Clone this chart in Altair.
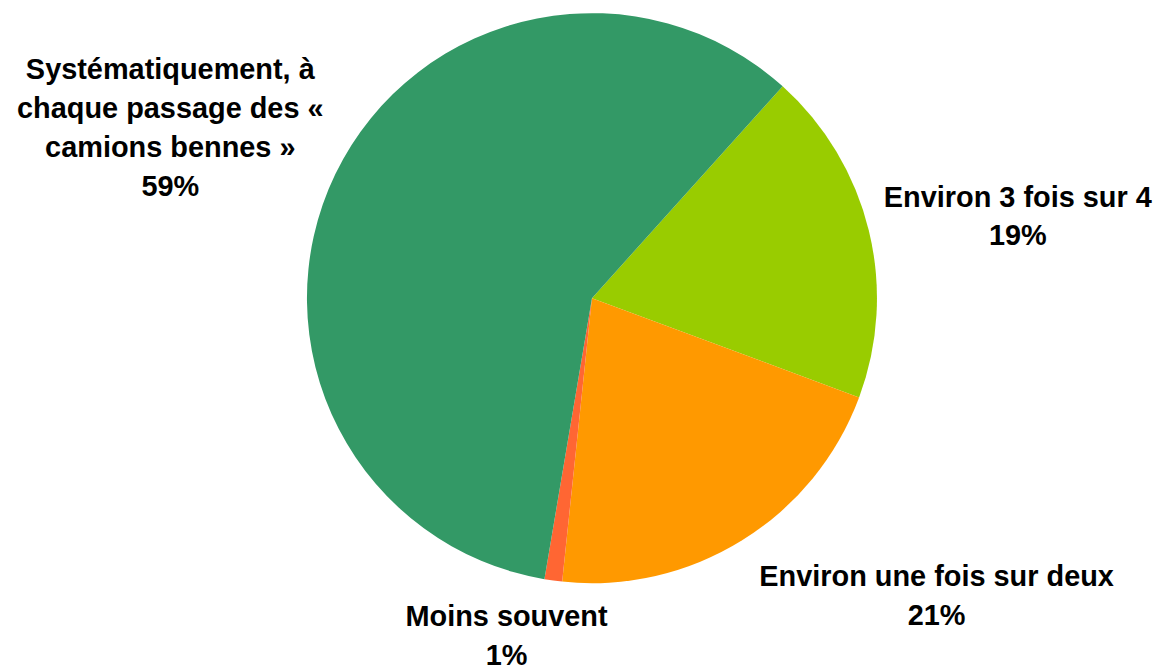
import math
import altair as alt
import pandas as pd

# ---- data ----
categories = [
    "Environ 3 fois sur 4",
    "Environ une fois sur deux",
    "Moins souvent",
    "Systématiquement, à chaque passage des « camions bennes »",
]
values = [19, 21, 1, 59]
label_lines = [
    ["Environ 3 fois sur 4"],
    ["Environ une fois sur deux"],
    ["Moins souvent"],
    ["Systématiquement, à", "chaque passage des «", "camions bennes »"],
]
colors = ["#99CC00", "#FF9900", "#FF6633", "#339966"]

labels = ["\n".join(lines + [f"{v}%"]) for lines, v in zip(label_lines, values)]
df = pd.DataFrame({
    "cat": categories,
    "value": values,
    "ord": list(range(len(categories))),
    "label": labels,
})

START = math.radians(42)
theta_scale = alt.Scale(range=[START, START + 2 * math.pi])

base = alt.Chart(df).transform_window(
    cum="sum(value)", sort=[alt.SortField("ord")], frame=[None, 0]
).transform_calculate(mid="datum.cum - datum.value / 2")

pie = base.mark_arc().encode(
    theta=alt.Theta("value:Q", stack=True, scale=theta_scale),
    color=alt.Color("cat:N", scale=alt.Scale(domain=categories, range=colors), legend=None),
    order=alt.Order("ord:Q"),
)

# label placement style (offsets from the mid-angle anchor)
label_style = {
    categories[0]: dict(dx=0, dy=4),
    categories[1]: dict(dx=114, dy=-94),
    categories[2]: dict(dx=-26, dy=-116),
    categories[3]: dict(dx=-27, dy=-37),
}

layers = [pie]
for cat in categories:
    st = label_style[cat]
    layers.append(
        base.transform_filter(alt.datum.cat == cat)
        .mark_text(
            radius=440, dx=st["dx"], dy=st["dy"], lineBreak="\n",
            font="Liberation Sans", fontSize=29, fontWeight="bold",
            align="center", baseline="middle", color="black", lineHeight=39,
        )
        .encode(
            theta=alt.Theta("mid:Q", stack=None, scale=theta_scale),
            text="label:N",
        )
    )

chart = alt.layer(*layers).properties(
    width=860, height=572,
    padding={"left": 156, "top": 4, "right": 134, "bottom": 83},
    autosize="none",
).configure_view(stroke=None)

chart.save("out.html", embed_options={"renderer": "svg", "actions": False})
